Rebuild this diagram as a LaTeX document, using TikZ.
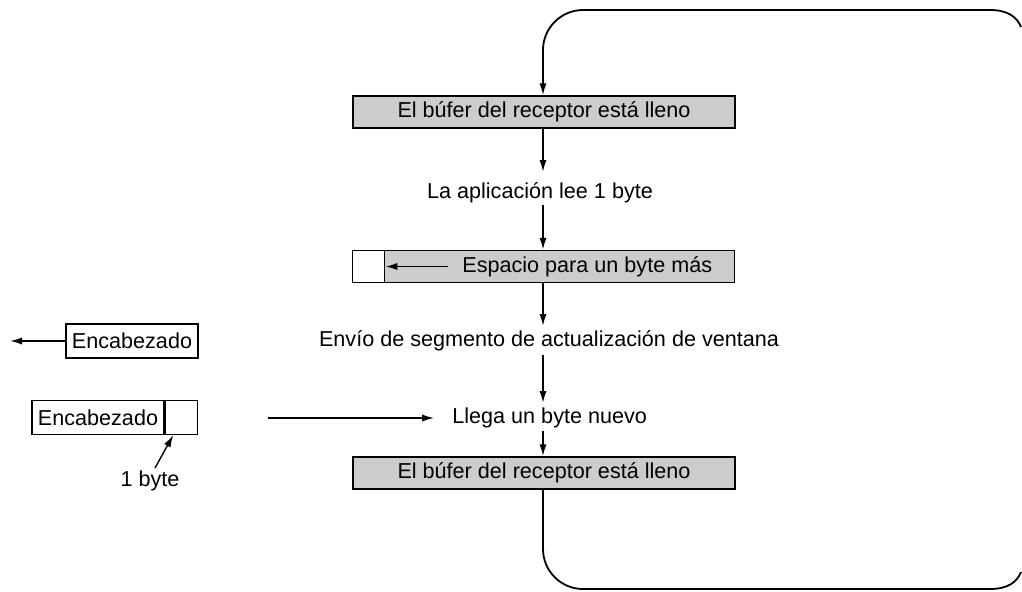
\documentclass[tikz,border=0pt]{standalone}
\usepackage{fontspec}
\setmainfont{Liberation Sans}
\usetikzlibrary{arrows.meta}
\begin{document}
\begin{tikzpicture}[x=0.5pt,y=-0.5pt,
  font=\fontsize{10.8}{12}\selectfont,
  shbox/.style={draw, line width=0.7pt, fill=gray!40, inner sep=0pt, minimum width=191pt, minimum height=16pt},
  wbox/.style={draw, line width=0.6pt, fill=white, inner sep=0pt, minimum height=17pt},
  lbl/.style={inner sep=1pt},
  conn/.style={line width=0.9pt, -{Latex[length=6pt,width=3.6pt]}},
  plain/.style={line width=0.9pt}]
\useasboundingbox (0,0) rectangle (1022,591);
% main boxes
\node[shbox] (b1) at (544,112) {El búfer del receptor está lleno};
\node[lbl] (t1) at (540,193) {La aplicación lee 1 byte};
\node[shbox, anchor=west] (b2) at (352,266.5) {};
\node[draw, line width=0.7pt, fill=white, inner sep=0pt, minimum width=16pt, minimum height=16pt, anchor=west] (cell) at (352,266.5) {};
\node[lbl, anchor=west] (t2) at (460,266.5) {Espacio para un byte más};
\node[lbl] (t3) at (549,341) {Envío de segmento de actualización de ventana};
\node[lbl, anchor=west] (t4) at (450,418) {Llega un byte nuevo};
\node[shbox] (b3) at (544,473) {El búfer del receptor está lleno};
% vertical arrows
\draw[conn] (b1.south -| 543,0) -- (543,172);
\draw[conn] (543,205) -- (b2.north -| 543,0);
\draw[conn] (b2.south -| 543,0) -- (543,326);
\draw[conn] (543,355) -- (543,403);
\draw[conn] (543,431) -- (b3.north -| 543,0);
% arrow inside box2
\draw[conn] (t2.west) ++(-12,0) coordinate (a2s) -- (cell.east);
% loop
\coordinate (lt) at (1021,27);
\coordinate (lb) at (1021,572);
\draw[plain] (b3.south -| 543,0) -- (543,549) .. controls (543,571) and (561,589) .. (583,589) -- (990,589) .. controls (1008,589) and (1017,582) .. (lb);
\draw[conn] (lt) .. controls (1017,17) and (1008,10) .. (990,10) -- (583,10) .. controls (561,10) and (543,28) .. (543,50) -- (b1.north -| 543,0);
% left side
\node[wbox, minimum width=66pt] (h1) at (132,341) {Encabezado};
\coordinate (h1end) at (10,341);
\draw[conn] (h1.west) -- (h1end);
\node[wbox, minimum width=66pt] (h2) at (98,417.5) {Encabezado};
\node[wbox, minimum width=16pt, anchor=west] (h2c) at (h2.east) {};
\node[lbl] (ob) at (150,481) {1 byte};
\coordinate (obtail) at (155,468);
\draw[conn, line width=0.7pt] (obtail) -- ([xshift=-4]h2c.south);
\coordinate (sendstart) at (268,418);
\draw[conn, line width=0.7pt] (sendstart) -- ([xshift=-8]t4.west);
\end{tikzpicture}
\end{document}
